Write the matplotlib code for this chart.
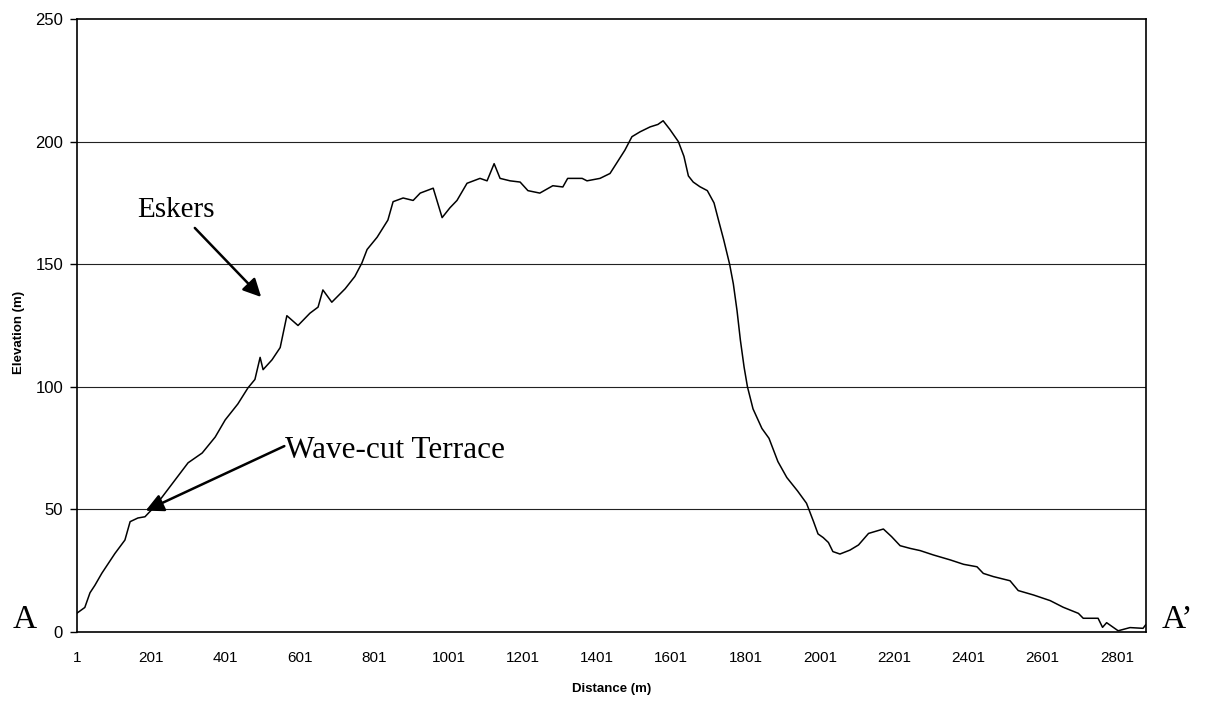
import matplotlib
matplotlib.use('Agg')
import matplotlib.pyplot as plt
import numpy as np

# profile A - A'
dist = [1, 22, 36, 49, 68, 103, 130, 144, 165, 184, 206, 230, 265, 300, 338, 373, 400, 434, 461, 480,
        494, 502, 526, 548, 566, 596, 628, 650, 663, 687, 723, 749, 768, 782, 809, 838, 852, 879, 906, 925,
        960, 984, 1005, 1024, 1051, 1086, 1105, 1124, 1140, 1167, 1194, 1215, 1247, 1282, 1309, 1322, 1361,
        1374, 1409, 1436, 1455, 1476, 1495, 1517, 1544, 1565, 1579, 1597, 1620, 1635, 1647, 1660, 1678, 1698,
        1716, 1728, 1742, 1758, 1768, 1778, 1787, 1797, 1806, 1821, 1845, 1864, 1888, 1912, 1941, 1965, 1984,
        1996, 2010, 2024, 2036, 2055, 2082, 2105, 2132, 2172, 2194, 2217, 2244, 2271, 2307, 2352, 2388, 2424,
        2441, 2468, 2513, 2535, 2576, 2621, 2656, 2697, 2710, 2750, 2762, 2773, 2804, 2836, 2871, 2878]
elev = [7.7, 10, 16, 19, 24, 32, 37.5, 45, 46.5, 47, 50.5, 55, 62, 69, 73, 79.5, 86.5, 93, 99.5, 103,
        112, 107, 111, 116, 129, 125, 130, 132.5, 139.5, 134.5, 140, 145, 150.5, 156, 161, 168, 175.5, 177, 176, 179,
        181, 169, 173, 176, 183, 185, 184, 191, 185, 184, 183.5, 180, 179, 182, 181.5, 185, 185,
        184, 185, 187, 191.5, 196.5, 202, 204, 206, 207, 208.5, 205, 200, 194, 186, 183.5, 181.6, 180,
        175, 168, 160, 150, 142, 131, 119, 108, 100, 91, 83, 79, 69.5, 63, 57.5, 52.5, 45,
        40, 38.5, 36.5, 32.8, 31.8, 33.4, 35.5, 40.2, 42, 38.9, 35.2, 34.1, 33.2, 31.4, 29.4, 27.6, 26.6,
        23.9, 22.6, 20.9, 16.9, 15.1, 12.8, 10.1, 7.6, 5.6, 5.6, 1.9, 3.8, 0.5, 1.8, 1.5, 2.9]

xticks = [1, 201, 401, 601, 801, 1001, 1201, 1401, 1601, 1801, 2001, 2201, 2401, 2601, 2801]
yticks = [0, 50, 100, 150, 200, 250]

fig = plt.figure(figsize=(12.09, 7.02), dpi=100)
ax = fig.add_axes([77/1209, 1-632/702, (1146-77)/1209, (632-19)/702])

for g in yticks[1:-1]:
    ax.axhline(g, color='#222222', lw=0.8, zorder=1)
ax.plot(dist, elev, color='black', lw=1.1, zorder=3)

ax.set_xlim(1, 2879)
ax.set_ylim(0, 250)
ax.set_xticks(xticks)
ax.set_yticks(yticks)
ax.tick_params(axis='x', length=0, pad=14, labelsize=11)
ax.tick_params(axis='y', length=5, width=1, direction='out', pad=5, labelsize=12)
for lab in ax.get_xticklabels() + ax.get_yticklabels():
    lab.set_fontfamily('Liberation Sans')
for s in ax.spines.values():
    s.set_linewidth(1.2)
    s.set_color('black')

ax.set_xlabel('Distance (m)', fontsize=9.5, fontweight='bold', family='Liberation Sans')
ax.set_ylabel('Elevation (m)', fontsize=9.5, fontweight='bold', family='Liberation Sans')
ax.xaxis.set_label_coords(0.5, -0.083)
ax.yaxis.set_label_coords(-0.0485, 0.489)

# annotations
ax.annotate('', xy=(502, 135.8), xytext=(313, 165.6),
            arrowprops=dict(arrowstyle='-|>', color='black', lw=1.8, mutation_scale=27))
ax.text(163, 172, 'Eskers', fontsize=21, family='Liberation Serif', va='center', ha='left')
ax.annotate('', xy=(179, 49), xytext=(566, 76.3),
            arrowprops=dict(arrowstyle='-|>', color='black', lw=1.8, mutation_scale=27))
ax.text(561, 74, 'Wave-cut Terrace', fontsize=22.5, family='Liberation Serif', va='center', ha='left')

fig.text(25/1209, 1-620/702, 'A', fontsize=24, family='Liberation Serif', ha='center', va='center')
fig.text(1177/1209, 1-620/702, 'A\u2019', fontsize=24, family='Liberation Serif', ha='center', va='center')

fig.savefig('out.png', dpi=100)
